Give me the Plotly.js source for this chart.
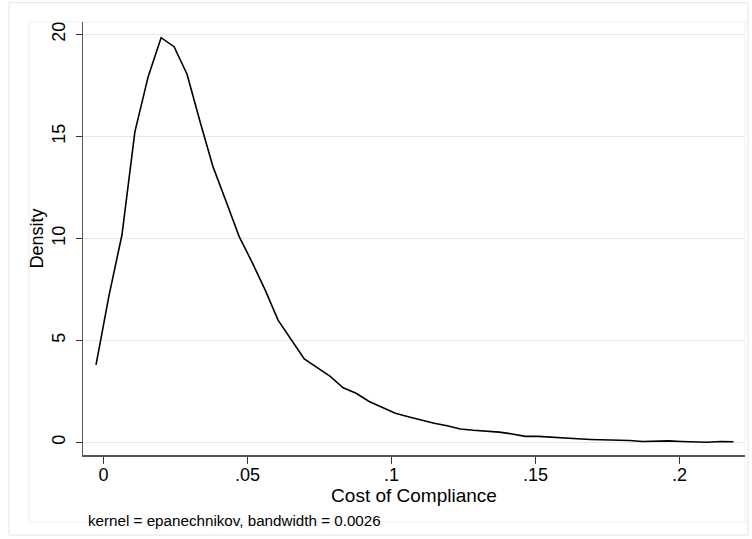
<!DOCTYPE html>
<html>
<head>
<meta charset="utf-8">
<script src="https://cdn.plot.ly/plotly-3.0.1.min.js"></script>
<style>html,body{margin:0;padding:0;background:#fff;}#chart{width:752px;height:539px;}</style>
</head>
<body>
<div id="chart"></div>
<script>
// Kernel density evaluation points (Cost of Compliance) and densities
const costPoints = [
  -0.0026, 0.0019, 0.0064, 0.0109, 0.0155, 0.0200, 0.0245, 0.0290, 0.0335, 0.0380,
  0.0426, 0.0471, 0.0516, 0.0561, 0.0606, 0.0651, 0.0697, 0.0742, 0.0787, 0.0832,
  0.0877, 0.0922, 0.0968, 0.1013, 0.1058, 0.1103, 0.1148, 0.1193, 0.1239, 0.1284,
  0.1329, 0.1374, 0.1419, 0.1464, 0.1510, 0.1555, 0.1600, 0.1645, 0.1690, 0.1735,
  0.1781, 0.1826, 0.1871, 0.1916, 0.1961, 0.2006, 0.2052, 0.2097, 0.2142, 0.2187
];
const density = [
  3.80, 7.20, 10.17, 15.24, 17.93, 19.84, 19.40, 18.05, 15.73, 13.52,
  11.80, 10.09, 8.83, 7.48, 6.00, 5.06, 4.10, 3.67, 3.24, 2.68,
  2.41, 2.01, 1.70, 1.43, 1.26, 1.10, 0.94, 0.82, 0.66, 0.60,
  0.56, 0.51, 0.42, 0.30, 0.30, 0.25, 0.21, 0.18, 0.15, 0.14,
  0.12, 0.10, 0.05, 0.06, 0.08, 0.05, 0.03, 0.01, 0.05, 0.04
];
const xTickVals = [0, 0.05, 0.1, 0.15, 0.2];
const xTickText = ["0", ".05", ".1", ".15", ".2"];
const yTickVals = [0, 5, 10, 15, 20];
const yTickText = ["0", "5", "10", "15", "20"];
const xTitle = "Cost of Compliance";
const yTitle = "Density";
const noteText = "kernel = epanechnikov, bandwidth = 0.0026";

const font = "Liberation Sans, Arial, sans-serif";

const trace = {
  x: costPoints,
  y: density,
  type: "scatter",
  mode: "lines",
  line: {color: "#000000", width: 1.6},
  hoverinfo: "skip"
};

const layout = {
  width: 752,
  height: 539,
  margin: {l: 83, r: 7, t: 22, b: 84},
  paper_bgcolor: "#ffffff",
  plot_bgcolor: "#ffffff",
  showlegend: false,
  font: {family: font, size: 18, color: "#000000"},
  xaxis: {
    range: [-0.00712, 0.2227],
    tickvals: xTickVals,
    ticktext: xTickText,
    ticks: "outside",
    ticklen: 7,
    tickwidth: 1,
    tickcolor: "#333333",
    ticklabelstandoff: -4,
    showline: true,
    linecolor: "#555555",
    linewidth: 1.5,
    showgrid: false,
    zeroline: false,
    tickfont: {family: font, size: 18, color: "#000000"},
    title: {text: xTitle, font: {family: font, size: 19, color: "#000000"}, standoff: 3}
  },
  yaxis: {
    range: [-0.613, 20.61],
    tickvals: yTickVals,
    ticktext: yTickText,
    ticks: "outside",
    ticklen: 6,
    tickwidth: 1,
    tickcolor: "#333333",
    tickangle: -90,
    ticklabelstandoff: 3,
    showline: true,
    linecolor: "#555555",
    linewidth: 1.5,
    showgrid: true,
    gridcolor: "#e8e8e8",
    gridwidth: 1.5,
    zeroline: false,
    tickfont: {family: font, size: 18, color: "#000000"},
    title: {text: yTitle, font: {family: font, size: 18, color: "#000000"}, standoff: 1}
  },
  shapes: [
    {type: "rect", xref: "paper", yref: "paper", x0: -0.1118, x1: 1.0045, y0: -0.1848, y1: 1.0446,
     line: {color: "#e4e4e4", width: 1}, fillcolor: "rgba(0,0,0,0)", layer: "below"},
    {type: "rect", xref: "paper", yref: "paper", x0: -0.0816, x1: 1.0, y0: -0.1547, y1: 1.0,
     line: {color: "#efefef", width: 1}, fillcolor: "rgba(0,0,0,0)", layer: "below"}
  ],
  annotations: [
    {text: noteText, xref: "paper", yref: "paper", x: (86 - 83) / 662, y: (455 - 520) / 433,
     xanchor: "left", yanchor: "middle", showarrow: false,
     font: {family: font, size: 15.2, color: "#000000"}}
  ]
};

Plotly.newPlot("chart", [trace], layout, {displayModeBar: false, staticPlot: true});
</script>
</body>
</html>
